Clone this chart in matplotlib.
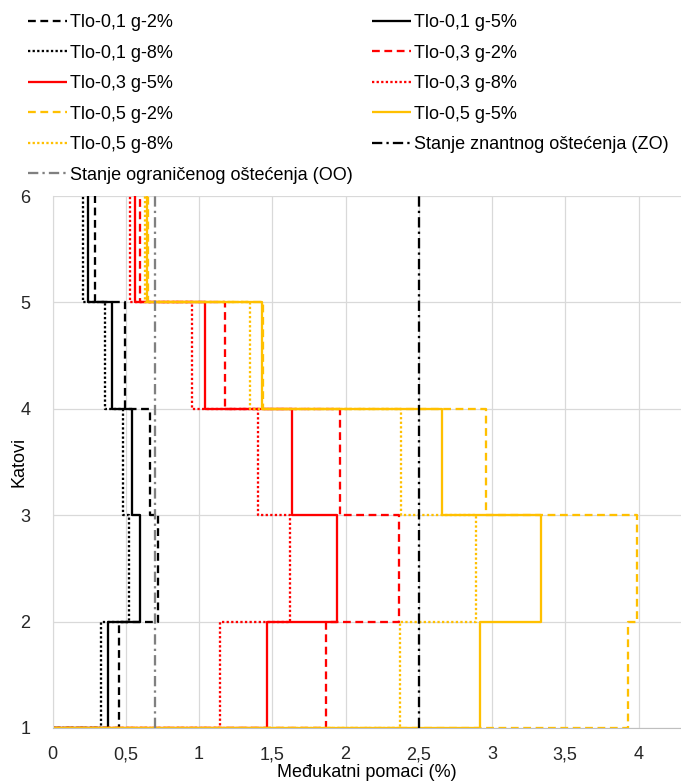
"""Međukatni pomaci po katovima za različite tipove tla i prigušenja."""

import matplotlib

matplotlib.use("Agg")

import matplotlib.pyplot as plt
import numpy as np

plt.rcParams["font.family"] = ["Liberation Sans", "DejaVu Sans"]

# katovi (granice etaža) i ticks
LEVELS = [1, 2, 3, 4, 5, 6]
X_TICKS = [0, 0.5, 1, 1.5, 2, 2.5, 3, 3.5, 4]
X_TICK_LABELS = ["0", "0,5", "1", "1,5", "2", "2,5", "3", "3,5", "4"]

# međukatni pomaci (%) po etaži, od 1. do 5. etaže
TLO01_G2 = [0.457, 0.717, 0.666, 0.498, 0.293]
TLO01_G5 = [0.380, 0.594, 0.545, 0.409, 0.241]
TLO01_G8 = [0.334, 0.519, 0.479, 0.361, 0.211]
TLO03_G2 = [1.870, 2.362, 1.959, 1.180, 0.598]
TLO03_G5 = [1.466, 1.945, 1.636, 1.039, 0.562]
TLO03_G8 = [1.145, 1.620, 1.406, 0.950, 0.530]
TLO05_G2 = [3.930, 3.990, 2.958, 1.440, 0.655]
TLO05_G5 = [2.915, 3.336, 2.660, 1.430, 0.645]
TLO05_G8 = [2.373, 2.893, 2.380, 1.348, 0.630]

# granična stanja (%)
ZO_LIMIT = 2.5
OO_LIMIT = 0.7

BLACK = "#000000"
RED = "#FF0000"
YELLOW = "#FFC000"
GRAY = "#808080"
DASH = (3.4, 2.0)
DOT = (1, 1)
SOLID = None
LW = 1.65
FS = 13

SERIES = [
    ("Tlo-0,1 g-2%", TLO01_G2, BLACK, DASH),
    ("Tlo-0,1 g-5%", TLO01_G5, BLACK, SOLID),
    ("Tlo-0,1 g-8%", TLO01_G8, BLACK, DOT),
    ("Tlo-0,3 g-2%", TLO03_G2, RED, DASH),
    ("Tlo-0,3 g-5%", TLO03_G5, RED, SOLID),
    ("Tlo-0,3 g-8%", TLO03_G8, RED, DOT),
    ("Tlo-0,5 g-2%", TLO05_G2, YELLOW, DASH),
    ("Tlo-0,5 g-5%", TLO05_G5, YELLOW, SOLID),
    ("Tlo-0,5 g-8%", TLO05_G8, YELLOW, DOT),
]


def step_profile(drifts):
    """Stepeničasti profil: horizontalno na razini kata, vertikalno kroz etažu."""
    x = np.concatenate([[0.0], np.repeat(drifts, 2)])
    y = np.concatenate([np.repeat(LEVELS[:-1], 2), [LEVELS[-1]]])
    return x, y


fig = plt.figure(figsize=(6.81, 7.81), dpi=100)
ax = fig.add_axes([0.0771, 0.0679, 0.9229, 0.6811])

handles = []
for label, drifts, color, dashes in SERIES:
    x, y = step_profile(drifts)
    (line,) = ax.plot(x, y, color=color, lw=LW, label=label, solid_capstyle="butt")
    if dashes is not None:
        line.set_dashes(dashes)
        line.set_dash_capstyle("butt")
    handles.append(line)

zo = ax.axvline(ZO_LIMIT, color=BLACK, lw=LW, dashes=(4.5, 1.8, 1, 1.8),
                label="Stanje znantnog oštećenja (ZO)")
oo = ax.axvline(OO_LIMIT, color=GRAY, lw=LW, dashes=(4.5, 1.8, 1, 1.8),
                label="Stanje ograničenog oštećenja (OO)")
handles += [zo, oo]

ax.set_xlim(0, 4.29)
ax.set_ylim(LEVELS[0], LEVELS[-1])
ax.set_xticks(X_TICKS)
ax.set_xticklabels(X_TICK_LABELS)
ax.set_yticks(LEVELS)
ax.tick_params(length=0, labelsize=FS, colors="#262626")
ax.tick_params(axis="x", pad=13)
ax.tick_params(axis="y", pad=16)
ax.grid(color="#d9d9d9", lw=0.9)
ax.set_axisbelow(True)
for side in ("top", "right"):
    ax.spines[side].set_visible(False)
ax.spines["left"].set_color("#d9d9d9")
ax.spines["bottom"].set_color("#bfbfbf")

ax.set_xlabel("Međukatni pomaci (%)", fontsize=FS)
ax.xaxis.set_label_coords(0.5, -0.068)
ax.set_ylabel("Katovi", fontsize=FS)
ax.yaxis.set_label_coords(-0.039, 0.5)

# legenda red po red (matplotlib puni stupce)
order = list(range(0, len(handles), 2)) + list(range(1, len(handles), 2))
ordered = [handles[i] for i in order]
fig.legend(
    ordered,
    [h.get_label() for h in ordered],
    loc="upper left",
    bbox_to_anchor=(0.041, 0.982),
    ncol=2,
    frameon=False,
    fontsize=FS,
    handlelength=2.15,
    handletextpad=0.18,
    columnspacing=1.05,
    labelspacing=0.75,
    borderaxespad=0,
    borderpad=0,
)

fig.savefig("out.png", dpi=100)
plt.close(fig)
